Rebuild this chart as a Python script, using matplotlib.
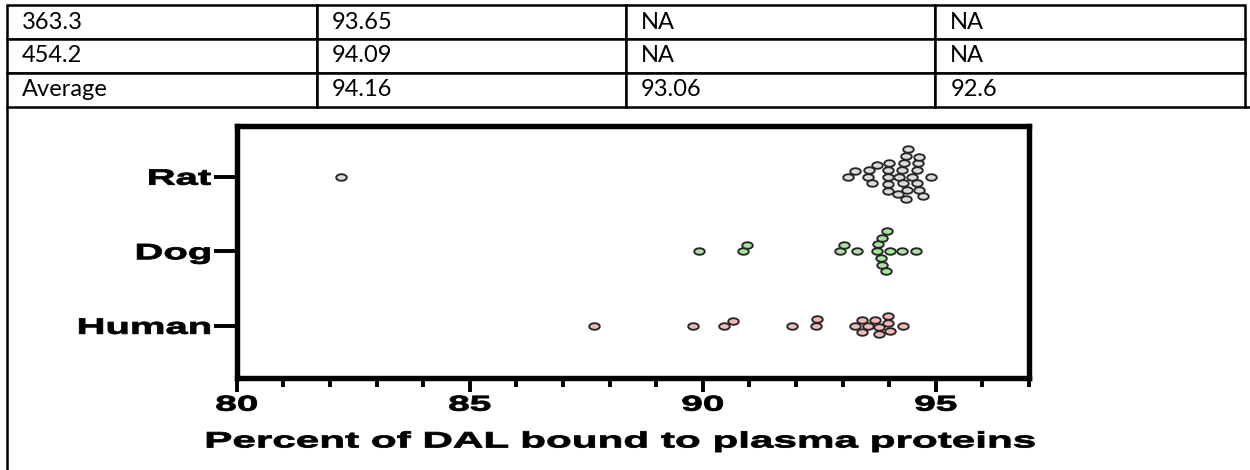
import numpy as np
import matplotlib
matplotlib.use("Agg")
import matplotlib.pyplot as plt
from matplotlib.path import Path
from matplotlib.transforms import Affine2D
from matplotlib.patheffects import AbstractPathEffect
from matplotlib.ticker import MultipleLocator

# table above the graph
table_rows = [
    ["363.3", "93.65", "NA", "NA"],
    ["454.2", "94.09", "NA", "NA"],
    ["Average", "94.16", "93.06", "92.6"],
]

# percent bound, one value per sample
species = ["Human", "Dog", "Rat"]
human = [87.67, 89.79, 90.46, 90.64, 91.91, 92.43, 92.45, 93.27, 93.41, 93.41,
         93.55, 93.70, 93.79, 93.79, 93.98, 93.98, 94.01, 94.29]
dog = [89.91, 90.86, 90.94, 92.95, 93.04, 93.30, 93.73, 93.77, 93.82, 93.84,
       93.85, 93.93, 93.95, 94.02, 94.28, 94.57]
rat = [82.24, 93.11, 93.27, 93.54, 93.56, 93.63, 93.74, 93.97, 93.97, 93.97,
       93.97, 94.00, 94.18, 94.22, 94.28, 94.29, 94.31, 94.36, 94.36, 94.38,
       94.40, 94.49, 94.60, 94.60, 94.61, 94.63, 94.65, 94.72, 94.90]
groups = [human, dog, rat]
face_colors = ["#f5b8b8", "#a8e4a0", "#dcdcdc"]

xticks_major = [80, 85, 90, 95]
xlabel = "Percent of DAL bound to plasma proteins"

W, H = 1250, 470
STRETCH = 1.8  # the graph was pasted in wider than it was drawn


class Stretch(AbstractPathEffect):
    """Widen glyphs horizontally about the left, centre or right edge,
    with a thin outline in the text colour to thicken the strokes."""

    def __init__(self, sx, anchor="center", outline=0.6):
        super().__init__()
        self.sx = sx
        self.anchor = anchor
        self.outline = outline

    def draw_path(self, renderer, gc, tpath, affine, rgbFace=None):
        ext = tpath.get_extents(affine)
        x0 = {"left": ext.x0, "center": 0.5 * (ext.x0 + ext.x1), "right": ext.x1}[self.anchor]
        aff = affine + Affine2D().translate(-x0, 0).scale(self.sx, 1).translate(x0, 0)
        gc0 = renderer.new_gc()
        gc0.copy_properties(gc)
        gc0.set_linewidth(self.outline)
        gc0.set_foreground(rgbFace)
        renderer.draw_path(gc0, tpath, aff, rgbFace)
        gc0.restore()


def swarm_offsets(values, px_x, px_y, w, h):
    """Greedy beeswarm: vertical offsets (data units) so markers don't overlap."""
    vals = np.asarray(values, dtype=float)
    u = vals * px_x / w
    placed = []
    offs = np.zeros(len(vals))
    for i in np.argsort(vals, kind="stable"):
        cands = [0.0]
        for uj, vj in placed:
            du = u[i] - uj
            if abs(du) < 1:
                dv = np.sqrt(1 - du ** 2)
                cands += [vj + dv, vj - dv]
        cands.sort(key=lambda c: (abs(c), -c))
        for c in cands:
            if all((u[i] - uj) ** 2 + (c - vj) ** 2 >= 1 - 1e-9 for uj, vj in placed):
                break
        placed.append((u[i], c))
        offs[i] = c * h / px_y
    return offs


fig = plt.figure(figsize=(W / 100, H / 100), dpi=100)

# page layer in pixel coordinates: table and cell borders
bg = fig.add_axes([0, 0, 1, 1])
bg.set_xlim(0, W)
bg.set_ylim(H, 0)
bg.axis("off")

tb_left, tb_right, tb_top, tb_bottom = 7, 1245, 5, 107
tbl = bg.table(cellText=table_rows, cellLoc="left",
               bbox=[tb_left / W, 1 - tb_bottom / H, (tb_right - tb_left) / W, (tb_bottom - tb_top) / H])
tbl.auto_set_font_size(False)
for cell in tbl.get_celld().values():
    cell.PAD = 0.048
    cell.set_linewidth(1.8)
    cell.set_edgecolor("black")
    cell.get_text().set_fontfamily("Lato")
    cell.get_text().set_fontsize(17)
    cell.get_text().set_color("black")
bg.plot([tb_left, tb_left], [tb_bottom, H], color="black", lw=1.8)
bg.plot([tb_right, W], [tb_bottom, tb_bottom], color="black", lw=1.8)

# graph
ax_l, ax_r, ax_t, ax_b = 236.7, 1029, 126, 378
ax = fig.add_axes([ax_l / W, 1 - ax_b / H, (ax_r - ax_l) / W, (ax_b - ax_t) / H])
ax.set_xlim(80, 97)
ax.set_ylim(0.3, 3.68)

px_x = (ax_r - ax_l) / 17
px_y = (ax_b - ax_t) / 3.38

ellipse = Path(Affine2D().scale(1, 0.62).transform(Path.unit_circle().vertices),
               Path.unit_circle().codes)

for k, (vals, fc) in enumerate(zip(groups, face_colors)):
    yoff = swarm_offsets(vals, px_x, px_y, 11.5, 7.0)
    ax.plot(vals, (k + 1) + yoff, linestyle="none", marker=ellipse, markersize=7.6,
            markerfacecolor=fc, markeredgecolor="#262626", markeredgewidth=1.35)

for side in ["left", "right", "top", "bottom"]:
    ax.spines[side].set_linewidth(3.9)
    ax.spines[side].set_color("black")

ax.set_xticks(xticks_major)
ax.xaxis.set_minor_locator(MultipleLocator(1))
ax.set_yticks([1, 2, 3])
ax.set_yticklabels(species)
ax.tick_params(axis="x", which="major", direction="out", length=10, width=2.8, pad=2)
ax.tick_params(axis="x", which="minor", direction="out", length=6.2, width=2.8)
ax.tick_params(axis="y", which="major", direction="out", length=16.5, width=2.8, pad=2)

for lab in ax.get_xticklabels():
    lab.set_fontfamily("Liberation Sans")
    lab.set_fontweight("bold")
    lab.set_fontsize(15.5)
    lab.set_path_effects([Stretch(STRETCH, "center")])
for lab in ax.get_yticklabels():
    lab.set_fontfamily("Liberation Sans")
    lab.set_fontweight("bold")
    lab.set_fontsize(16)
    lab.set_path_effects([Stretch(STRETCH, "right")])

ax.set_xlabel(xlabel, fontfamily="Liberation Sans", fontweight="bold", fontsize=16,
              path_effects=[Stretch(1.9, "center")])
ax.xaxis.set_label_coords(0.484, -0.212)

fig.savefig("out.png", dpi=100)
